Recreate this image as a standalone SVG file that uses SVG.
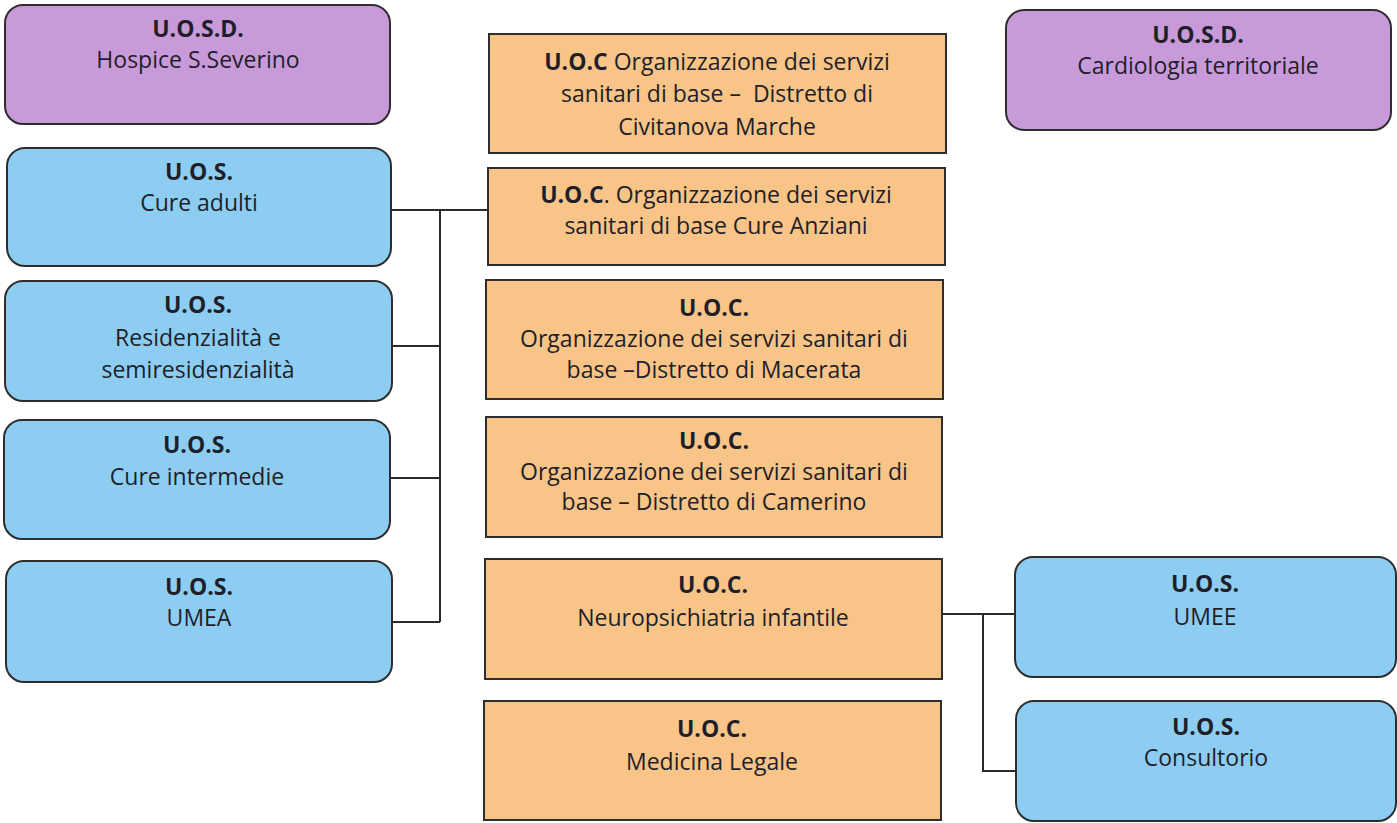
<svg xmlns="http://www.w3.org/2000/svg" width="1397" height="823" viewBox="0 0 1397 823">
<style>
.t{font-family:"Open Sans","Liberation Sans",sans-serif;font-size:23px;fill:#1f1f2a;text-anchor:middle}
.b{font-weight:bold}
.p{fill:#c99ad9;stroke:#2e2e2e;stroke-width:2}
.u{fill:#8dcdf1;stroke:#2e2e2e;stroke-width:2}
.o{fill:#f9c487;stroke:#2e2e2e;stroke-width:2}
.c{fill:none;stroke:#2a2a2a;stroke-width:2}
</style>
<rect width="1397" height="823" fill="#ffffff"/>
<g id="connectors">
<path class="c" d="M391 210H488M440 210V622M392 346H440M390 478H440M392 622H440"/>
<path class="c" d="M942 614H1015M983 614V771H1016"/>
</g>
<g id="hospice">
<rect class="p" x="5" y="5" width="385" height="119" rx="18"/>
<text class="t b" x="198" y="37">U.O.S.D.</text>
<text class="t" x="198" y="68">Hospice S.Severino</text>
</g>
<g id="cure-adulti">
<rect class="u" x="7" y="148" width="384" height="118" rx="18"/>
<text class="t b" x="199" y="180">U.O.S.</text>
<text class="t" x="199" y="211">Cure adulti</text>
</g>
<g id="residenzialita">
<rect class="u" x="5" y="281" width="387" height="120" rx="18"/>
<text class="t b" x="198" y="313">U.O.S.</text>
<text class="t" x="198" y="346">Residenzialità e</text>
<text class="t" x="198" y="378">semiresidenzialità</text>
</g>
<g id="cure-intermedie">
<rect class="u" x="4" y="420" width="386" height="119" rx="18"/>
<text class="t b" x="197" y="453">U.O.S.</text>
<text class="t" x="197" y="485">Cure intermedie</text>
</g>
<g id="umea">
<rect class="u" x="6" y="561" width="386" height="121" rx="18"/>
<text class="t b" x="199" y="595">U.O.S.</text>
<text class="t" x="199" y="626">UMEA</text>
</g>
<g id="uoc-civitanova">
<rect class="o" x="489" y="34" width="457" height="119"/>
<text class="t" x="717" y="70"><tspan class="b">U.O.C</tspan> Organizzazione dei servizi</text>
<text class="t" x="717" y="102">sanitari di base –&#160; Distretto di</text>
<text class="t" x="717" y="135">Civitanova Marche</text>
</g>
<g id="uoc-anziani">
<rect class="o" x="488" y="168" width="457" height="97"/>
<text class="t" x="716" y="203"><tspan class="b">U.O.C</tspan>. Organizzazione dei servizi</text>
<text class="t" x="716" y="234">sanitari di base Cure Anziani</text>
</g>
<g id="uoc-macerata">
<rect class="o" x="486" y="280" width="457" height="119"/>
<text class="t b" x="714" y="316">U.O.C.</text>
<text class="t" x="714" y="347">Organizzazione dei servizi sanitari di</text>
<text class="t" x="714" y="378">base –Distretto di Macerata</text>
</g>
<g id="uoc-camerino">
<rect class="o" x="486" y="417" width="456" height="120"/>
<text class="t b" x="714" y="449">U.O.C.</text>
<text class="t" x="714" y="480">Organizzazione dei servizi sanitari di</text>
<text class="t" x="714" y="510">base – Distretto di Camerino</text>
</g>
<g id="uoc-neuropsichiatria">
<rect class="o" x="485" y="559" width="457" height="120"/>
<text class="t b" x="713" y="593">U.O.C.</text>
<text class="t" x="713" y="626">Neuropsichiatria infantile</text>
</g>
<g id="uoc-medicina-legale">
<rect class="o" x="484" y="701" width="457" height="119"/>
<text class="t b" x="712" y="737">U.O.C.</text>
<text class="t" x="712" y="770">Medicina Legale</text>
</g>
<g id="cardiologia">
<rect class="p" x="1006" y="10" width="385" height="120" rx="18"/>
<text class="t b" x="1198" y="43">U.O.S.D.</text>
<text class="t" x="1198" y="74">Cardiologia territoriale</text>
</g>
<g id="umee">
<rect class="u" x="1015" y="557" width="381" height="120" rx="18"/>
<text class="t b" x="1205" y="592">U.O.S.</text>
<text class="t" x="1205" y="625">UMEE</text>
</g>
<g id="consultorio">
<rect class="u" x="1016" y="701" width="380" height="120" rx="18"/>
<text class="t b" x="1206" y="735">U.O.S.</text>
<text class="t" x="1206" y="766">Consultorio</text>
</g>
</svg>
